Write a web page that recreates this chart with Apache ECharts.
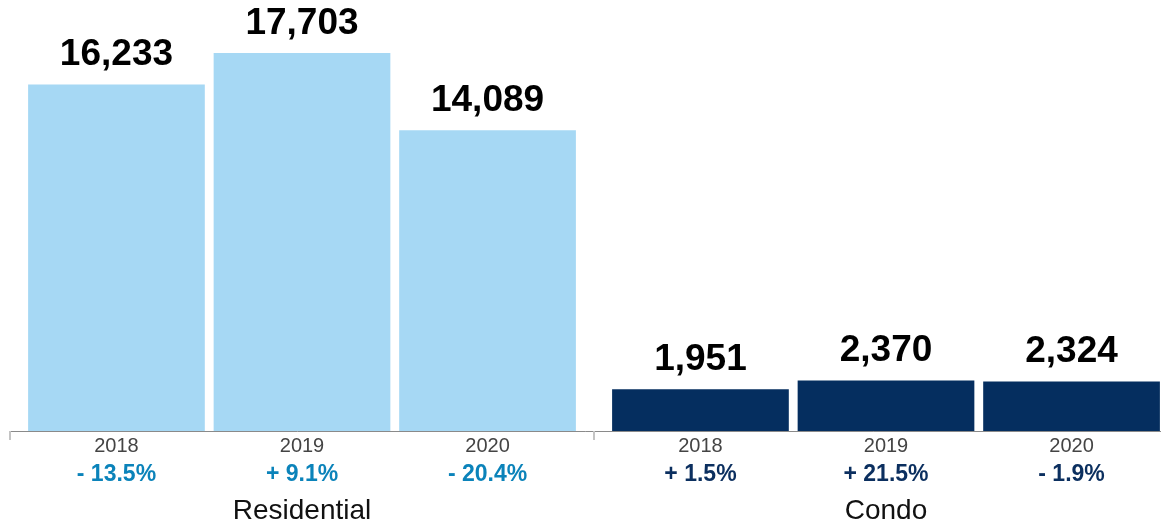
<!DOCTYPE html>
<html>
<head>
<meta charset="utf-8">
<script src="https://cdn.jsdelivr.net/npm/echarts@6/dist/echarts.min.js"></script>
<style>
html,body{margin:0;padding:0;background:#fff;}
#chart{width:1161px;height:525px;}
</style>
</head>
<body>
<div id="chart"></div>
<script>
var categories = ['Residential', 'Condo'];
var years = ['2018', '2019', '2020'];
var residentialValues = [16233, 17703, 14089];
var condoValues = [1951, 2370, 2324];
var residentialChanges = ['- 13.5%', '+ 9.1%', '- 20.4%'];
var condoChanges = ['+ 1.5%', '+ 21.5%', '- 1.9%'];

var barColors = ['#a6d8f4', '#052e5f'];
var changeColors = ['#0b83ba', '#0b2f5f'];
var FONT = '"Liberation Sans", Arial, Helvetica, sans-serif';

var series = [];
years.forEach(function (yr, i) {
  var vals = [residentialValues[i], condoValues[i]];
  var chg = [residentialChanges[i], condoChanges[i]];
  series.push({
    type: 'bar',
    name: yr + ' label',
    stack: 's' + yr,
    barCategoryGap: '6.2%',
    barGap: '5%',
    silent: true,
    itemStyle: { color: 'rgba(0,0,0,0)' },
    data: chg.map(function (c, k) {
      return {
        value: 0,
        label: {
          show: true,
          position: 'bottom',
          distance: 3,
          fontFamily: FONT,
          formatter: '{y|' + yr + '}\n{p|' + c + '}',
          rich: {
            y: { fontSize: 20, lineHeight: 24, color: '#444444', fontFamily: FONT, align: 'center' },
            p: { fontSize: 23, lineHeight: 33, fontWeight: 'bold', color: changeColors[k], fontFamily: FONT, align: 'center' }
          }
        }
      };
    })
  });
  series.push({
    type: 'bar',
    name: yr,
    stack: 's' + yr,
    barCategoryGap: '6.2%',
    barGap: '5%',
    data: vals.map(function (v, k) {
      return { value: v, itemStyle: { color: barColors[k] } };
    }),
    label: {
      show: true,
      position: 'top',
      distance: 11,
      fontSize: 37,
      lineHeight: 37,
      fontWeight: 'bold',
      color: '#000',
      fontFamily: FONT,
      formatter: function (p) { return p.value.toLocaleString('en-US'); }
    }
  });
});

var chart = echarts.init(document.getElementById('chart'), null, { renderer: 'canvas' });
chart.setOption({
  animation: false,
  grid: { left: 10, width: 1168, top: 4, bottom: 94, containLabel: false, outerBoundsMode: 'none' },
  xAxis: {
    type: 'category',
    data: categories,
    axisLine: { show: true, lineStyle: { color: '#8a8a8a', width: 1 } },
    axisTick: { show: true, length: 9, lineStyle: { color: '#c4c4c4', width: 2 } },
    axisLabel: { fontSize: 28, color: '#111', margin: 66, fontFamily: FONT }
  },
  yAxis: {
    type: 'value', min: 0, max: 20000, show: false,
    splitLine: { show: false }
  },
  series: series
});
</script>
</body>
</html>
